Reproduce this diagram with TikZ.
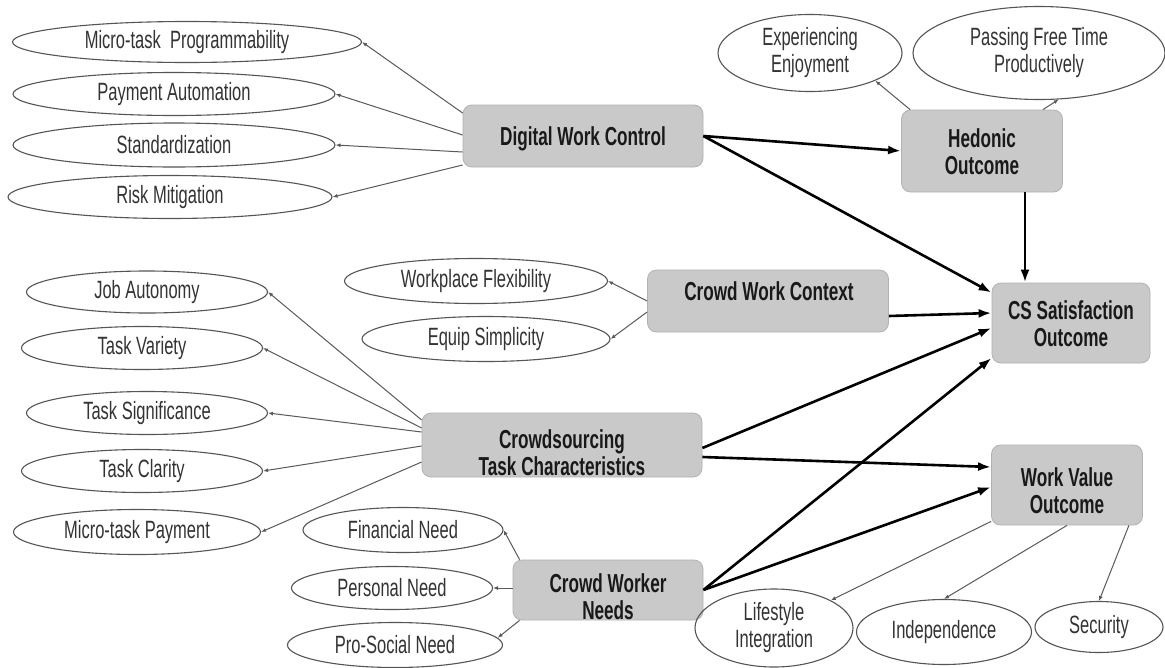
\documentclass[tikz,border=0pt]{standalone}
\usepackage{fontspec}
\setmainfont{Liberation Sans}[FakeStretch=0.66]
\usetikzlibrary{shapes.geometric,arrows.meta}
\definecolor{boxfill}{HTML}{C9C9C9}
\definecolor{boxline}{HTML}{B2B2B2}
\definecolor{ovline}{HTML}{555555}
\definecolor{ovtext}{HTML}{333333}
\definecolor{thinarr}{HTML}{5A5A5A}
\begin{document}
\begin{tikzpicture}[x=1pt,y=-1pt,
  oval/.style={ellipse, draw=ovline, line width=1.1pt, inner sep=0pt, text=ovtext, font=\fontsize{25}{27}\selectfont, align=center},
  box/.style={rectangle, rounded corners=9pt, fill=boxfill, draw=boxline, line width=0.8pt, inner sep=0pt},
  boxtxt/.style={font=\bfseries\fontsize{26}{27}\selectfont, text=black!90, align=center, inner sep=0pt},
  thinarrow/.style={draw=thinarr, line width=1pt, -{Latex[length=5pt,width=4pt]}},
  thickarrow/.style={draw=black, line width=2.6pt, -{Latex[length=13pt,width=9pt]}}
]
\fill[white] (0,0) rectangle (1165,667);
\useasboundingbox (0,0) rectangle (1165,667);

% boxes
\node[box, minimum width=240, minimum height=62] (dwc) at (583,136) {};
\node[box, minimum width=161, minimum height=82] (ho) at (982,151) {};
\node[box, minimum width=158, minimum height=80] (cs) at (1071,323) {};
\node[box, minimum width=241, minimum height=62] (cwc) at (768,301) {};
\node[box, minimum width=280, minimum height=64] (ctc) at (562,445) {};
\node[box, minimum width=190, minimum height=60] (cwn) at (608,590) {};
\node[box, minimum width=151, minimum height=80] (wvo) at (1067,485) {};

\node[boxtxt] (dwcT) at (583,139) {Digital Work Control};
\node[boxtxt] (hoT) at (982,152) {Hedonic\\Outcome};
\node[boxtxt] (csT) at (1071,324) {CS Satisfaction\\Outcome};
\node[boxtxt] (cwcT) at (769,291) {Crowd Work Context};
\node[boxtxt] (ctcT) at (562,453) {Crowdsourcing\\Task Characteristics};
\node[boxtxt] (cwnT) at (608,597) {Crowd Worker\\Needs};
\node[boxtxt] (wvoT) at (1067,491) {Work Value\\Outcome};

% ellipses
\node[oval, minimum width=349, minimum height=41] (mtp) at (187,42) {Micro-task\ \ Programmability};
\node[oval, minimum width=322, minimum height=43] (pa) at (174,94) {Payment Automation};
\node[oval, minimum width=322, minimum height=44] (std) at (174,145) {Standardization};
\node[oval, minimum width=324, minimum height=43] (rm) at (170,197) {Risk Mitigation};
\node[oval, minimum width=184, minimum height=77] (ee) at (810,53) {Experiencing\\Enjoyment};
\node[oval, minimum width=252, minimum height=93] (pft) at (1039,53) {Passing Free Time\\Productively};
\node[oval, minimum width=263, minimum height=45] (wf) at (476,281) {Workplace Flexibility};
\node[oval, minimum width=248, minimum height=45] (es) at (486,339) {Equip Simplicity};
\node[oval, minimum width=241, minimum height=42] (ja) at (147,292) {Job Autonomy};
\node[oval, minimum width=241, minimum height=43] (tv) at (142,348) {Task Variety};
\node[oval, minimum width=241, minimum height=43] (ts) at (147,413) {Task Significance};
\node[oval, minimum width=241, minimum height=43] (tc) at (142,471) {Task Clarity};
\node[oval, minimum width=247, minimum height=45] (mp) at (137,532) {Micro-task Payment};
\node[oval, minimum width=200, minimum height=45] (fn) at (403,530) {Financial Need};
\node[oval, minimum width=201, minimum height=43] (pn) at (392,588) {Personal Need};
\node[oval, minimum width=215, minimum height=45] (ps) at (395,645) {Pro-Social Need};
\node[oval, minimum width=158, minimum height=78] (li) at (774,628) {Lifestyle\\Integration};
\node[oval, minimum width=175, minimum height=65] (ind) at (944,632) {Independence};
\node[oval, minimum width=128, minimum height=51] (sec) at (1099,627) {Security};

% thin arrows
\draw[thinarrow] ([yshift=23pt]dwc.west) -- (mtp.east);
\draw[thinarrow] ([yshift=1pt]dwc.west) -- (pa.east);
\draw[thinarrow] ([yshift=-16pt]dwc.west) -- (std.east);
\draw[thinarrow] ([yshift=-29pt]dwc.west) -- (rm.east);

\draw[thinarrow] ([xshift=9pt]ho.north west) -- (ee.-23);
\draw[thinarrow] ([xshift=-20pt]ho.north east) -- (pft.-67);

\draw[thinarrow] (cwc.west) -- (wf.east);
\draw[thinarrow] ([yshift=-11pt]cwc.west) -- (es.east);

\draw[thinarrow] ([yshift=25pt]ctc.west) -- (ja.east);
\draw[thinarrow] ([yshift=17pt]ctc.west) -- (tv.east);
\draw[thinarrow] ([yshift=13pt]ctc.west) -- (ts.east);
\draw[thinarrow] ([yshift=-1pt]ctc.west) -- (tc.east);
\draw[thinarrow] ([yshift=-17pt]ctc.west) -- (mp.east);

\draw[thinarrow] ([xshift=7pt]cwn.north west) -- (fn.east);
\draw[thinarrow] ([yshift=2pt]cwn.west) -- (pn.east);
\draw[thinarrow] ([xshift=7pt]cwn.south west) -- (ps.4);

\draw[thinarrow] ([yshift=4pt]wvo.south west) -- (li.26);
\draw[thinarrow] (wvo.south) -- (ind.north);
\draw[thinarrow] ([xshift=-14pt]wvo.south east) -- (sec.north);

% thick arrows
\draw[thickarrow] (dwc.east) -- (ho.west);
\draw[thickarrow] (dwc.east) -- ([yshift=-10pt]cs.north west);
\draw[thickarrow] ([xshift=43pt]ho.south) -- ([xshift=-46pt]cs.north);
\draw[thickarrow] ([yshift=-15pt]cwc.east) -- ([yshift=10pt]cs.west);
\draw[thickarrow] ([yshift=-3pt]ctc.east) -- ([yshift=-5pt]cs.west);
\draw[thickarrow] ([yshift=-12pt]ctc.east) -- ([yshift=18pt]wvo.west);
\draw[thickarrow] (cwn.east) -- ([yshift=-2pt]wvo.west);
\draw[thickarrow] (cwn.east) -- ([yshift=-35pt]cs.west);
\end{tikzpicture}
\end{document}
